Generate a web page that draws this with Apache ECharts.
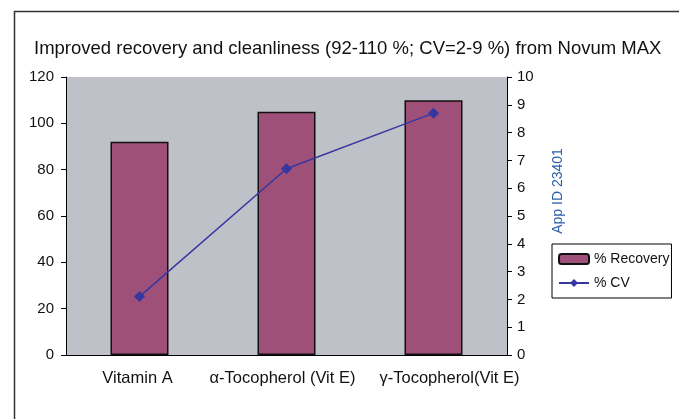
<!DOCTYPE html>
<html lang="en">
<head>
    <meta charset="UTF-8">
    <title>Novum MAX recovery</title>
    <script type="text/javascript" src="https://cdn.jsdelivr.net/npm/echarts@6/dist/echarts.min.js"></script>
    <style>
        html, body { margin: 0; padding: 0; background: #fff; }
        #main { width: 679px; height: 419px; }
    </style>
</head>
<body>
    <div id="main"></div>
<script>
    // 数据
    var categories = ['Vitamin A', 'α-Tocopherol (Vit E)', 'γ-Tocopherol(Vit E)'];
    var recovery = [92, 105, 110];
    var cv = [2.1, 6.7, 8.7];
    var leftTicks = [0, 20, 40, 60, 80, 100, 120];
    var rightTicks = [0, 1, 2, 3, 4, 5, 6, 7, 8, 9, 10];

    var font = 'Liberation Sans, Arial, Helvetica, sans-serif';
    var chart = echarts.init(document.getElementById('main'));
    // 最后一个标签往右偏，避免重叠
    var labelPads = [[0, 4, 0, 0], [0, 8, 0, 0], [0, 0, 0, 32]];
    var xData = categories.map(function (c, i) {
        return { value: c, textStyle: { padding: labelPads[i] } };
    });
    var option = {
        backgroundColor: '#fff',
        animation: false,
        title: {
            text: 'Improved recovery and cleanliness (92-110 %; CV=2-9 %) from Novum MAX',
            left: 29,
            top: 34,
            textStyle: { fontFamily: font, fontSize: 18.5, fontWeight: 'normal', color: '#111' }
        },
        legend: {
            orient: 'vertical',
            left: 552,
            top: 244,
            padding: [8, 2, 8, 6],
            itemGap: 10,
            itemWidth: 30,
            itemHeight: 10,
            borderColor: '#000',
            borderWidth: 1,
            textStyle: { fontFamily: font, fontSize: 14, color: '#111' },
            data: ['% Recovery', '% CV']
        },
        grid: {
            left: 66, right: 172, top: 77, bottom: 64,
            show: true,
            backgroundColor: '#BFC1C9',
            borderWidth: 0
        },
        xAxis: {
            type: 'category',
            data: xData,
            axisLine: { lineStyle: { color: '#000', width: 1 } },
            axisTick: { length: 6, lineStyle: { color: '#000' } },
            axisLabel: { interval: 0, fontFamily: font, fontSize: 16.5, color: '#111', margin: 15 }
        },
        yAxis: [{
            type: 'value',
            min: leftTicks[0],
            max: leftTicks[leftTicks.length - 1],
            interval: 20,
            splitLine: { show: false },
            axisLine: { show: true, lineStyle: { color: '#000' } },
            axisTick: { show: true, length: 5, lineStyle: { color: '#000' } },
            axisLabel: { fontFamily: font, fontSize: 15, color: '#111', margin: 12 }
        }, {
            type: 'value',
            min: rightTicks[0],
            max: rightTicks[rightTicks.length - 1],
            interval: 1,
            splitLine: { show: false },
            axisLine: { show: true, lineStyle: { color: '#000' } },
            axisTick: { show: true, length: 5, lineStyle: { color: '#000' } },
            axisLabel: { fontFamily: font, fontSize: 15, color: '#111', margin: 10 }
        }],
        graphic: [{
            type: 'rect',
            left: 12, top: 9,
            shape: { width: 720, height: 500 },
            style: { fill: 'none', stroke: '#333', lineWidth: 1.5 },
            z: -1
        }, {
            type: 'text',
            x: 558, y: 191,
            rotation: Math.PI / 2,
            style: {
                text: 'App ID 23401',
                fill: '#2C5EA8',
                font: '14px ' + font,
                align: 'center',
                verticalAlign: 'middle'
            }
        }],
        series: [{
            name: '% Recovery',
            type: 'bar',
            data: recovery,
            barWidth: 58,
            itemStyle: { color: '#9E5079', borderColor: '#111', borderWidth: 1.5 }
        }, {
            name: '% CV',
            type: 'line',
            yAxisIndex: 1,
            data: cv,
            symbol: 'diamond',
            symbolSize: 11,
            lineStyle: { color: '#3636A0', width: 1.5 },
            itemStyle: { color: '#3636A0' }
        }]
    };
    chart.setOption(option);
</script>
</body>
</html>
